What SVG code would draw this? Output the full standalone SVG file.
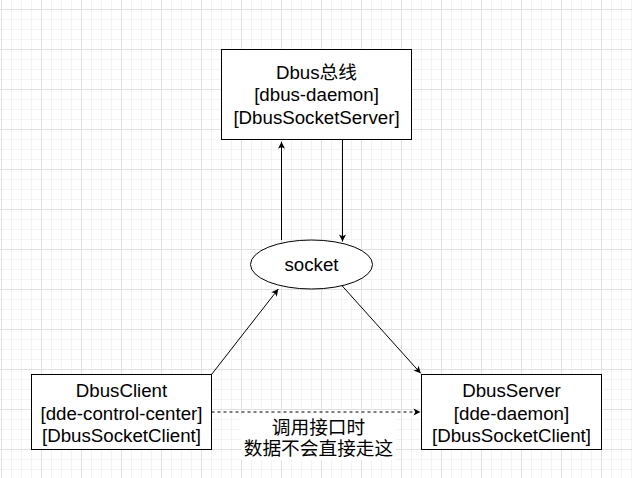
<svg xmlns="http://www.w3.org/2000/svg" width="632" height="478" viewBox="0 0 632 478">
<defs>
<pattern id="minor" patternUnits="userSpaceOnUse" x="1" y="9" width="10" height="10">
<path d="M0.5 0V10M0 0.5H10" stroke="#f3f3f3" stroke-width="1" fill="none"/>
</pattern>
<pattern id="major" patternUnits="userSpaceOnUse" x="1" y="9" width="40" height="40">
<path d="M0.5 0V40M0 0.5H40" stroke="#e0e0e0" stroke-width="1" fill="none"/>
</pattern>
<marker id="arrow" markerUnits="userSpaceOnUse" markerWidth="8" markerHeight="8" refX="7" refY="3.5" orient="auto" overflow="visible">
<path d="M0 0L7 3.5L0 7L1.75 3.5Z" fill="#000" stroke="none"/>
</marker>
<style>
.box{fill:#fff;stroke:#000;stroke-width:1}
.t{font-family:"Liberation Sans",Arial,"Noto Sans CJK SC",sans-serif;font-size:18.7px;fill:#000;text-anchor:middle}
.edge{fill:none;stroke:#000;stroke-width:1}
</style>
</defs>
<rect width="632" height="478" fill="#fff"/>
<rect width="632" height="478" fill="url(#minor)"/>
<rect width="632" height="478" fill="url(#major)"/>

<g id="connectors">
<path class="edge" d="M281.5 240V141.8" marker-end="url(#arrow)"/>
<path class="edge" d="M342.5 139.5V241.5" marker-end="url(#arrow)"/>
<path class="edge" d="M211.5 374.5L278.3 289" marker-end="url(#arrow)"/>
<path class="edge" d="M342 285.7L420.7 373.3" marker-end="url(#arrow)"/>
<path class="edge" d="M211.5 412H420.5" stroke-dasharray="3 3" marker-end="url(#arrow)"/>
<g id="edge-label">
<rect x="241" y="414" width="155" height="46" fill="#fff"/>
<text class="t" x="318.5" y="433.5">调用接口时</text>
<text class="t" x="318.5" y="455">数据不会直接走这</text>
</g>
</g>

<g id="dbus-bus">
<rect class="box" x="221.5" y="49.5" width="190" height="90"/>
<text class="t" x="316.5" y="78.8">Dbus总线</text>
<text class="t" x="316.5" y="101.2">[dbus-daemon]</text>
<text class="t" x="316.5" y="123.6">[DbusSocketServer]</text>
</g>

<g id="socket">
<ellipse class="box" cx="311.5" cy="264.5" rx="61" ry="24.5"/>
<text class="t" x="311.5" y="271.2">socket</text>
</g>

<g id="dbus-client">
<rect class="box" x="31.5" y="374.5" width="180" height="75"/>
<text class="t" x="121.5" y="397.2">DbusClient</text>
<text class="t" x="121.5" y="419.6">[dde-control-center]</text>
<text class="t" x="121.5" y="442">[DbusSocketClient]</text>
</g>

<g id="dbus-server">
<rect class="box" x="421.5" y="374.5" width="180" height="75"/>
<text class="t" x="511.5" y="397.2">DbusServer</text>
<text class="t" x="511.5" y="419.6">[dde-daemon]</text>
<text class="t" x="511.5" y="442">[DbusSocketClient]</text>
</g>
</svg>
